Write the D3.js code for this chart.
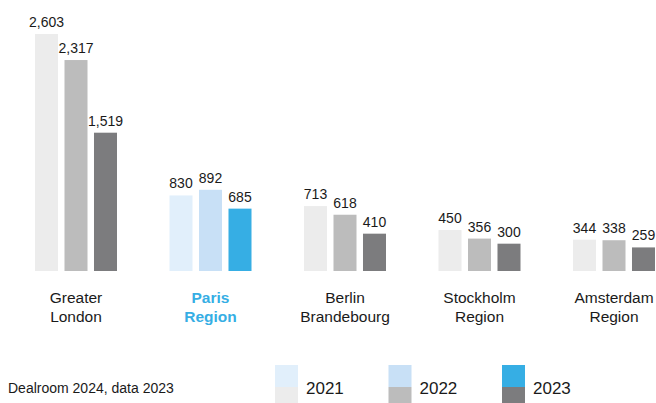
<!DOCTYPE html>
<html lang="en">
<head>
  <meta charset="UTF-8">
  <title>Dealroom 2024</title>
  <style>
    body{ margin:0; background:#fff; }
    text{ font-family:'Liberation Sans', Arial, sans-serif; fill:#1a1a1a; }
    .valueLabel{ font-size:14px; text-anchor:middle; }
    .cityLabel{ font-size:15.5px; text-anchor:middle; }
    .cityLabel.highlight{ fill:#36aee4; font-weight:700; }
    .legendText{ font-size:17px; }
    .source{ font-size:14px; }
  </style>
  <script src="https://cdn.jsdelivr.net/npm/d3@7"></script>
</head>
<body>
  <div class="container"></div>
<script>
  // data
  var cities = [['Greater', 'London'], ['Paris', 'Region'], ['Berlin', 'Brandebourg'], ['Stockholm', 'Region'], ['Amsterdam', 'Region']];
  var years = ['2021', '2022', '2023'];
  var v2021 = [2603, 830, 713, 450, 344];
  var v2022 = [2317, 892, 618, 356, 338];
  var v2023 = [1519, 685, 410, 300, 259];
  var highlightIndex = 1;
  var source = 'Dealroom 2024, data 2023';

  var grayColors = ['#ececec', '#bcbcbc', '#7c7c7e'];
  var blueColors = ['#e1effb', '#c8e0f6', '#36aee4'];

  var svgWidth = 656, svgHeight = 403;
  var baseline = 271;
  var svg = d3.select('.container')
            .append('svg')
            .attr('width', svgWidth)
            .attr('height', svgHeight);

  var series = [v2021, v2022, v2023];
  var data = cities.map(function(c, i){
    return { idx: i, name: c, values: years.map(function(y, j){ return { year: y, j: j, value: series[j][i], idx: i }; }) };
  });

  // scales
  var x0 = d3.scaleBand()
            .domain(d3.range(cities.length))
            .range([35, 35 + 134.5 * cities.length])
            .padding(0);
  var x1 = d3.scaleBand()
            .domain(years)
            .range([0, 82])
            .paddingInner(0.22)
            .paddingOuter(0);
  var y = d3.scaleLinear()
            .domain([0, 2603])
            .range([baseline, 34]);

  var groups = svg.append('g')
      .selectAll('.group')
      .data(data)
      .enter().append('g')
      .attr('class', 'group')
      .attr('transform', function(d){ return 'translate(' + x0(d.idx) + ',0)'; });

  groups.selectAll('rect')
      .data(function(d){ return d.values; })
      .enter().append('rect')
      .attr('x', function(d){ return x1(d.year); })
      .attr('y', function(d){ return y(d.value); })
      .attr('width', x1.bandwidth())
      .attr('height', function(d){ return baseline - y(d.value); })
      .style('fill', function(d){ return d.idx === highlightIndex ? blueColors[d.j] : grayColors[d.j]; });

  groups.selectAll('.valueLabel')
      .data(function(d){ return d.values; })
      .enter().append('text')
      .attr('class', 'valueLabel')
      .attr('x', function(d){ return x1(d.year) + x1.bandwidth() / 2; })
      .attr('y', function(d){ return y(d.value) - 7; })
      .text(function(d){ return d3.format(',')(d.value); });

  var labels = groups.append('text')
      .attr('class', function(d){ return d.idx === highlightIndex ? 'cityLabel highlight' : 'cityLabel'; })
      .attr('x', 41)
      .attr('y', 302.5);
  labels.selectAll('tspan')
      .data(function(d){ return d.name; })
      .enter().append('tspan')
      .attr('x', 41)
      .attr('dy', function(d, i){ return i === 0 ? 0 : 19.5; })
      .text(function(d){ return d; });

  // legend
  var legend = svg.append('g')
      .selectAll('.legendItem')
      .data(years)
      .enter().append('g')
      .attr('class', 'legendItem')
      .attr('transform', function(d, i){ return 'translate(' + (275 + i * 113.5) + ',365)'; });
  legend.append('rect')
      .attr('width', 23).attr('height', 22)
      .style('fill', function(d, i){ return blueColors[i]; });
  legend.append('rect')
      .attr('y', 22)
      .attr('width', 23).attr('height', 22)
      .style('fill', function(d, i){ return grayColors[i]; });
  legend.append('text')
      .attr('class', 'legendText')
      .attr('x', 31)
      .attr('y', 28.5)
      .text(function(d){ return d; });

  svg.append('text')
      .attr('class', 'source')
      .attr('x', 8)
      .attr('y', 393)
      .text(source);
</script>
</body>
</html>
